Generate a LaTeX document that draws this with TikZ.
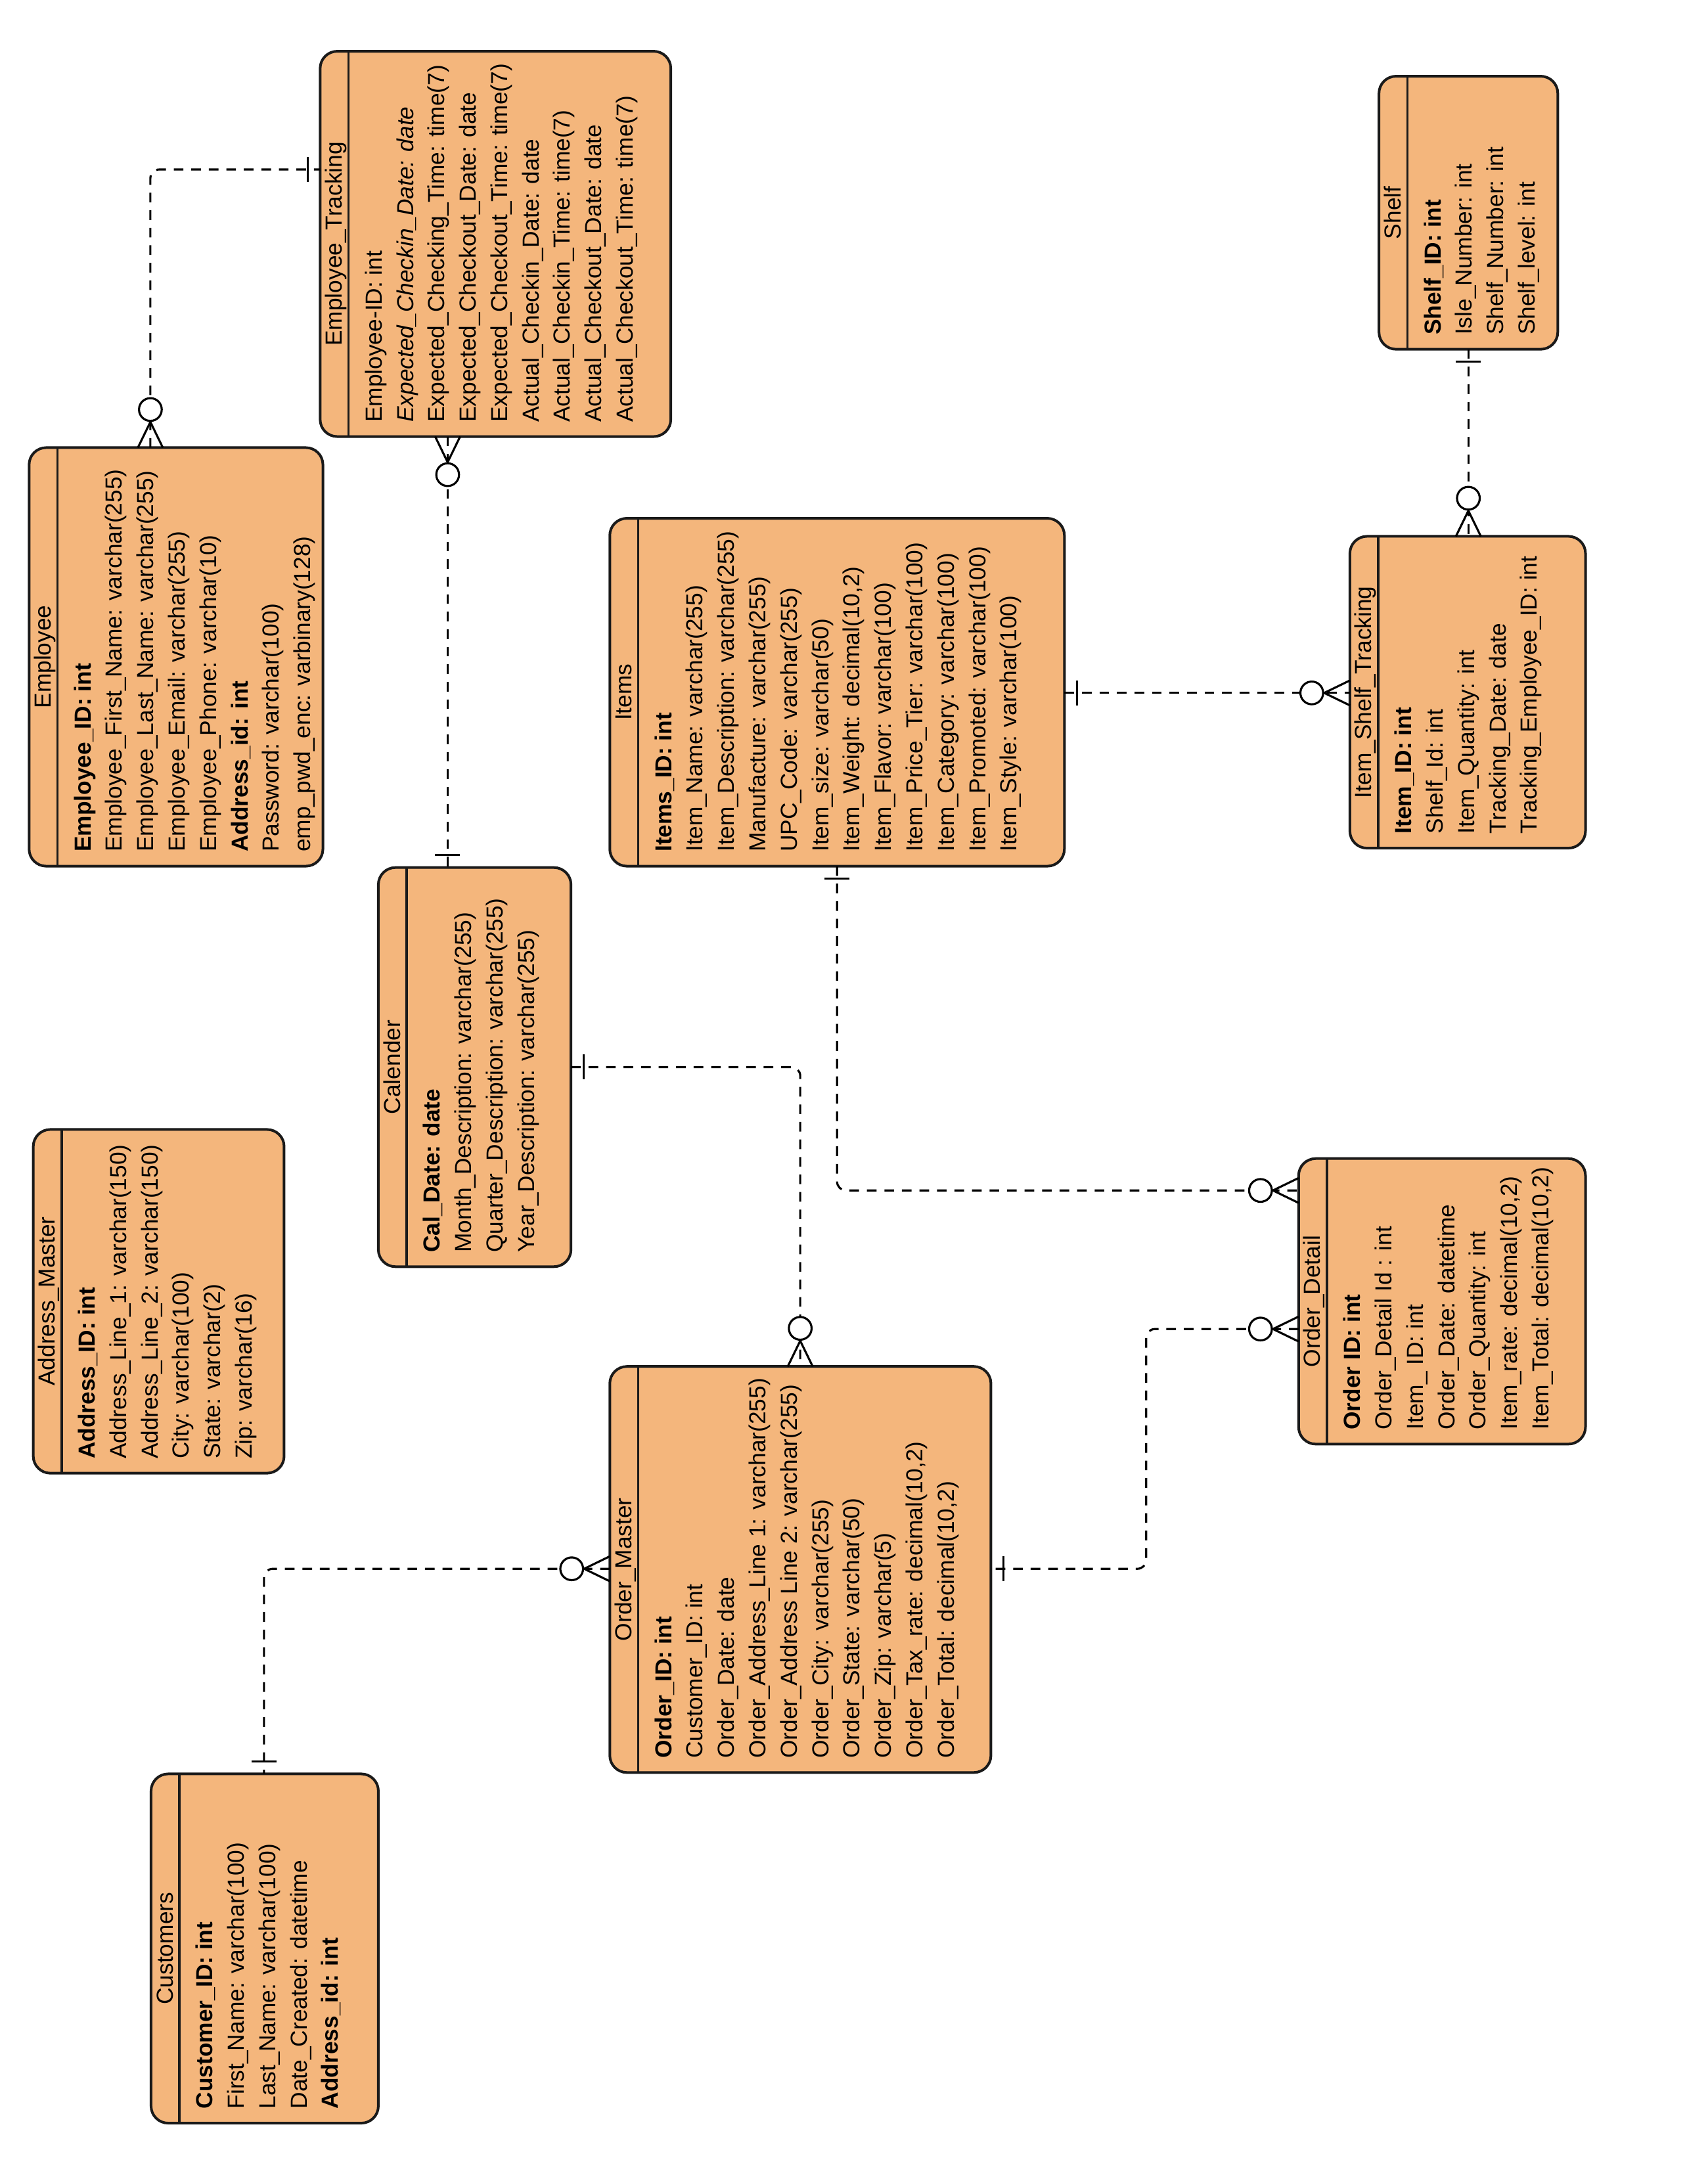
\documentclass[tikz,border=0pt]{standalone}
\usepackage{fontspec}
\setmainfont{Liberation Sans}
\definecolor{erfill}{RGB}{244,182,124}
\definecolor{erdark}{RGB}{26,26,26}

% table frame: name, x1, y1, x2, y2, title
\newcommand\ertable[6]{%
  \node[erbox, minimum width={(#4-#2)*0.633pt}, minimum height={(#5-#3)*0.633pt}]
    (#1) at ({(#2+#4)/2},{(#3+#5)/2}) {};
  \draw[erline] ({#2+20.5},#3) -- ({#2+20.5},#5);
  \node[ertext, anchor=base] at ({#2+15.7},{(#3+#5)/2}) {#6};
}
% attribute rows: x1, y2, list of rows
\newcommand\errows[3]{%
  \foreach \r [count=\i from 0] in {#3}
    \node[ertext, anchor=base west] at ({#1+44.5+\i*22.65},{#2-10}) {\r};
}

\begin{document}
\begin{tikzpicture}[x=0.633pt,y=-0.633pt,
  erbox/.style={draw=erdark, line width=1.2pt, fill=erfill, rounded corners=7.8pt,
    inner sep=0pt, outer sep=0pt},
  erline/.style={draw=erdark, line width=1.1pt},
  ertext/.style={rotate=90, inner sep=0pt, font=\fontsize{10.6}{12.7}\selectfont},
  conn/.style={draw=black, line width=0.95pt, dash pattern=on 4.4pt off 3.6pt,
    rounded corners=4pt},
  crowopt/.pic={
    \draw[solid, line width=0.95pt] (0,9) -- (18.5,0) -- (0,-9);
    \draw[solid, line width=0.95pt, fill=white] (27.5,0) circle[radius=8.2];},
  erbar/.pic={\draw[solid, line width=0.95pt] (9,-9) -- (9,9);}
]
\useasboundingbox[fill=white] (0,0) rectangle (1232,1568);

% ---------- tables ----------
\ertable{et}{231}{37}{484}{315}{Employee\_Tracking}
\errows{231}{315}{{Employee-ID: int},{\itshape Expected\_Checkin\_Date: date},
  {Expected\_Checking\_Time: time(7)},{Expected\_Checkout\_Date: date},
  {Expected\_Checkout\_Time: time(7)},{Actual\_Checkin\_Date: date},
  {Actual\_Checkin\_Time: time(7)},{Actual\_Checkout\_Date: date},
  {Actual\_Checkout\_Time: time(7)}}

\ertable{emp}{21}{323}{233}{625}{Employee}
\errows{21}{625}{{\bfseries Employee\_ID: int},{Employee\_First\_Name: varchar(255)},
  {Employee\_Last\_Name: varchar(255)},{Employee\_Email: varchar(255)},
  {Employee\_Phone: varchar(10)},{\bfseries Address\_id: int},
  {Password: varchar(100)},{emp\_pwd\_enc: varbinary(128)}}

\ertable{items}{440}{374}{768}{625}{Items}
\errows{440}{625}{{\bfseries Items\_ID: int},{Item\_Name: varchar(255)},
  {Item\_Description: varchar(255)},{Manufacture: varchar(255)},
  {UPC\_Code: varchar(255)},{Item\_size: varchar(50)},
  {Item\_Weight: decimal(10,2)},{Item\_Flavor: varchar(100)},
  {Item\_Price\_Tier: varchar(100)},{Item\_Category: varchar(100)},
  {Item\_Promoted: varchar(100)},{Item\_Style: varchar(100)}}

\ertable{shelf}{995}{55}{1124}{252}{Shelf}
\errows{995}{252}{{\bfseries Shelf\_ID: int},{Isle\_Number: int},
  {Shelf\_Number: int},{Shelf\_level: int}}

\ertable{ist}{974}{387}{1144}{612}{Item\_Shelf\_Tracking}
\errows{974}{612}{{\bfseries Item\_ID: int},{Shelf\_Id: int},{Item\_Quantity: int},
  {Tracking\_Date: date},{Tracking\_Employee\_ID: int}}

\ertable{cal}{273}{626}{412}{914}{Calender}
\errows{273}{914}{{\bfseries Cal\_Date: date},{Month\_Description: varchar(255)},
  {Quarter\_Description: varchar(255)},{Year\_Description: varchar(255)}}

\ertable{addr}{24}{815}{205}{1063}{Address\_Master}
\errows{24}{1063}{{\bfseries Address\_ID: int},{Address\_Line\_1: varchar(150)},
  {Address\_Line\_2: varchar(150)},{City: varchar(100)},
  {State: varchar(2)},{Zip: varchar(16)}}

\ertable{od}{937}{836}{1144}{1042}{Order\_Detail}
\errows{937}{1042}{{\bfseries Order ID: int},{Order\_Detail Id : int},{Item\_ ID: int},
  {Order\_Date: datetime},{Order\_Quantity: int},{Item\_rate: decimal(10,2)},
  {Item\_Total: decimal(10,2)}}

\ertable{om}{440}{986}{715}{1279}{Order\_Master}
\errows{440}{1279}{{\bfseries Order\_ID: int},{Customer\_ID: int},{Order\_Date: date},
  {Order\_Address\_Line 1: varchar(255)},{Order\_Address Line 2: varchar(255)},
  {Order\_City: varchar(255)},{Order\_State: varchar(50)},{Order\_Zip: varchar(5)},
  {Order\_Tax\_rate: decimal(10,2)},{Order\_Total: decimal(10,2)}}

\ertable{cust}{109}{1280}{273}{1532}{Customers}
\errows{109}{1532}{{\bfseries Customer\_ID: int},{First\_Name: varchar(100)},
  {Last\_Name: varchar(100)},{Date\_Created: datetime},{\bfseries Address\_id: int}}

% ---------- attachment points ----------
\coordinate (c1a) at (108.5,0 |- emp.north);
\coordinate (c1b) at (et.west |- 0,122.3);
\coordinate (c2a) at (323,0 |- et.south);
\coordinate (c2b) at (323,0 |- cal.north);
\coordinate (c3a) at (1059.5,0 |- shelf.south);
\coordinate (c3b) at (1059.5,0 |- ist.north);
\coordinate (c4a) at (items.east |- 0,500);
\coordinate (c4b) at (ist.west |- 0,500);
\coordinate (c5a) at (604,0 |- items.south);
\coordinate (c5b) at (od.west |- 0,859);
\coordinate (c6a) at (cal.east |- 0,770);
\coordinate (c6b) at (577.4,0 |- om.north);
\coordinate (c7a) at (od.west |- 0,959);
\coordinate (c7b) at (om.east |- 0,1132);
\coordinate (c8a) at (om.west |- 0,1132);
\coordinate (c8b) at (190.5,0 |- cust.north);

% ---------- relationships ----------
\draw[conn] (c1a) |- (c1b);
\draw[conn] (c2a) -- (c2b);
\draw[conn] (c3a) -- (c3b);
\draw[conn] (c4a) -- (c4b);
\draw[conn] (c5a) |- (c5b);
\draw[conn] (c6a) -| (c6b);
\draw[conn] (c7a) -| (827,0 |- c7b) -- (c7b);
\draw[conn] (c8a) -| (c8b);

% ---------- cardinality marks ----------
\pic[rotate=90]  at (c1a) {crowopt};
\pic[rotate=180] at (c1b) {erbar};
\pic[rotate=270] at (c2a) {crowopt};
\pic[rotate=90]  at (c2b) {erbar};
\pic[rotate=270] at (c3a) {erbar};
\pic[rotate=90]  at (c3b) {crowopt};
\pic[rotate=0]   at (c4a) {erbar};
\pic[rotate=180] at (c4b) {crowopt};
\pic[rotate=270] at (c5a) {erbar};
\pic[rotate=180] at (c5b) {crowopt};
\pic[rotate=0]   at (c6a) {erbar};
\pic[rotate=90]  at (c6b) {crowopt};
\pic[rotate=180] at (c7a) {crowopt};
\pic[rotate=0]   at (c7b) {erbar};
\pic[rotate=180] at (c8a) {crowopt};
\pic[rotate=90]  at (c8b) {erbar};
\end{tikzpicture}
\end{document}
